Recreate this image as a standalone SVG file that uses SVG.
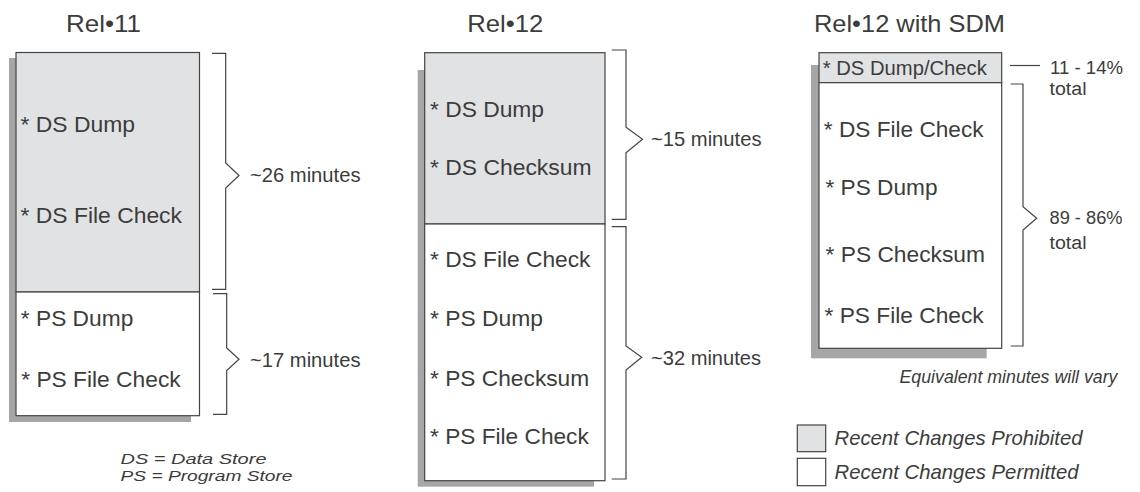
<svg xmlns="http://www.w3.org/2000/svg" width="1140" height="492" viewBox="0 0 1140 492">
<style>
text{font-family:"Liberation Sans",Arial,sans-serif;fill:#3c3c3c}
.title{font-size:24.5px}
.item{font-size:22.3px}
.small{font-size:20px}
.ann{font-size:19.8px}
.pct{font-size:18px}
.it{font-style:italic}
.shadow{fill:#a6a6a6}
.pro{fill:#e1e2e4;stroke:#444;stroke-width:1.2}
.per{fill:#ffffff;stroke:#444;stroke-width:1.2}
.br{fill:none;stroke:#444;stroke-width:1.2}
</style>
<rect width="1140" height="492" fill="#ffffff"/>
<g id="titles">
<text class="title" x="66" y="31.7" textLength="75" lengthAdjust="spacingAndGlyphs">Rel•11</text>
<text class="title" x="467.3" y="31.7" textLength="76" lengthAdjust="spacingAndGlyphs">Rel•12</text>
<text class="title" x="814" y="31.7" textLength="191" lengthAdjust="spacingAndGlyphs">Rel•12 with SDM</text>
</g>
<g id="shadows">
<rect class="shadow" x="9" y="58" width="182" height="364"/>
<rect class="shadow" x="417.7" y="70" width="176.3" height="416.7"/>
<rect class="shadow" x="811" y="65" width="175.7" height="293.3"/>
</g>
<g id="rel11-ds">
<rect class="pro" x="16" y="52.5" width="183.5" height="239.5"/>
<text class="item" x="20.5" y="131.5" textLength="114.5" lengthAdjust="spacingAndGlyphs">* DS Dump</text>
<text class="item" x="20.5" y="222.5" textLength="161.5" lengthAdjust="spacingAndGlyphs">* DS File Check</text>
</g>
<g id="rel11-ps">
<rect class="per" x="16" y="292" width="183.5" height="123.7"/>
<text class="item" x="20.8" y="326" textLength="112.5" lengthAdjust="spacingAndGlyphs">* PS Dump</text>
<text class="item" x="21.2" y="387" textLength="159.5" lengthAdjust="spacingAndGlyphs">* PS File Check</text>
</g>
<g id="rel12-ds">
<rect class="pro" x="424.7" y="52.7" width="180.3" height="171.3"/>
<text class="item" x="430" y="116.5" textLength="114" lengthAdjust="spacingAndGlyphs">* DS Dump</text>
<text class="item" x="430" y="175" textLength="161.5" lengthAdjust="spacingAndGlyphs">* DS Checksum</text>
</g>
<g id="rel12-ps">
<rect class="per" x="424.7" y="224" width="180.3" height="256.7"/>
<text class="item" x="430" y="266.7" textLength="160.5" lengthAdjust="spacingAndGlyphs">* DS File Check</text>
<text class="item" x="430" y="326" textLength="113" lengthAdjust="spacingAndGlyphs">* PS Dump</text>
<text class="item" x="430" y="385.7" textLength="159.2" lengthAdjust="spacingAndGlyphs">* PS Checksum</text>
<text class="item" x="430" y="444" textLength="158.8" lengthAdjust="spacingAndGlyphs">* PS File Check</text>
</g>
<g id="sdm-ds">
<rect class="pro" x="819" y="52.7" width="182.7" height="30"/>
<text class="small" x="822.8" y="75" textLength="164" lengthAdjust="spacingAndGlyphs">* DS Dump/Check</text>
</g>
<g id="sdm-ps">
<rect class="per" x="819" y="82.7" width="182.7" height="265.6"/>
<text class="item" x="823.8" y="136.7" textLength="159.8" lengthAdjust="spacingAndGlyphs">* DS File Check</text>
<text class="item" x="825.5" y="195" textLength="112" lengthAdjust="spacingAndGlyphs">* PS Dump</text>
<text class="item" x="825.5" y="261.7" textLength="159.5" lengthAdjust="spacingAndGlyphs">* PS Checksum</text>
<text class="item" x="824.5" y="323.3" textLength="159.2" lengthAdjust="spacingAndGlyphs">* PS File Check</text>
</g>
<g id="connectors">
<path class="br" d="M212,53.3 H225.7 V163 L239,175.5 L225.7,188 V289.3 H212"/>
<path class="br" d="M213,293.7 H226.7 V348 L239,359.3 L226.7,370.5 V414.3 H213"/>
<path class="br" d="M611.7,50 H626 V127.3 L642.5,139.3 L626,152.7 V219.3 H611.7"/>
<path class="br" d="M611.7,226.7 H626 V346 L641.7,357.3 L626,370 V479 H611.7"/>
<path class="br" d="M1010,65.5 H1040"/>
<path class="br" d="M1010.7,84 H1023 V206.7 L1036.7,218.3 L1023,230 V346 H1010.7"/>
</g>
<g id="annotations">
<text class="ann" x="250" y="181.7" textLength="110.5" lengthAdjust="spacingAndGlyphs">~26 minutes</text>
<text class="ann" x="250" y="366.7" textLength="110.5" lengthAdjust="spacingAndGlyphs">~17 minutes</text>
<text class="ann" x="651" y="146" textLength="110.5" lengthAdjust="spacingAndGlyphs">~15 minutes</text>
<text class="ann" x="651" y="365" textLength="110" lengthAdjust="spacingAndGlyphs">~32 minutes</text>
<text class="pct" x="1050" y="74" textLength="73" lengthAdjust="spacingAndGlyphs">11 - 14%</text>
<text class="pct" x="1049.5" y="95" textLength="37" lengthAdjust="spacingAndGlyphs">total</text>
<text class="pct" x="1049.5" y="224" textLength="73" lengthAdjust="spacingAndGlyphs">89 - 86%</text>
<text class="pct" x="1049.5" y="249" textLength="37" lengthAdjust="spacingAndGlyphs">total</text>
<text class="it" font-size="17.5" x="899.5" y="383.3" textLength="218" lengthAdjust="spacingAndGlyphs">Equivalent minutes will vary</text>
<text class="it" font-size="15.5" x="120.5" y="463.5" textLength="146" lengthAdjust="spacingAndGlyphs">DS = Data Store</text>
<text class="it" font-size="15.5" x="120.5" y="481" textLength="172" lengthAdjust="spacingAndGlyphs">PS = Program Store</text>
</g>
<g id="legend">
<rect class="pro" x="797.3" y="425" width="28.4" height="26.7"/>
<rect class="per" x="797.3" y="458.3" width="28.4" height="27.4"/>
<text class="it" font-size="19.8" x="834.5" y="445" textLength="248" lengthAdjust="spacingAndGlyphs">Recent Changes Prohibited</text>
<text class="it" font-size="19.8" x="834.5" y="479.3" textLength="244" lengthAdjust="spacingAndGlyphs">Recent Changes Permitted</text>
</g>
</svg>
